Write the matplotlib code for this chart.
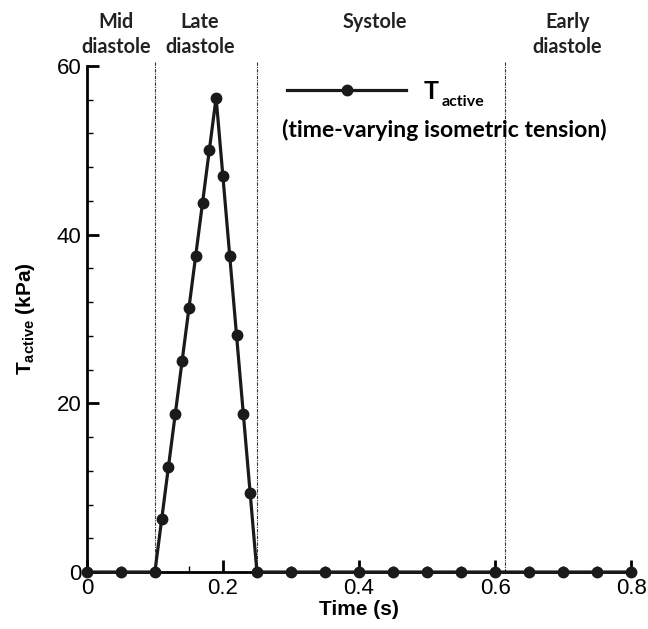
import matplotlib
matplotlib.use('Agg')
import matplotlib.pyplot as plt
from matplotlib.ticker import MultipleLocator

# time points (s) and active tension (kPa)
time = [0.0, 0.05, 0.10, 0.11, 0.12, 0.13, 0.14, 0.15, 0.16, 0.17, 0.18, 0.19,
        0.20, 0.21, 0.22, 0.23, 0.24, 0.25, 0.30, 0.35, 0.40, 0.45, 0.50, 0.55,
        0.60, 0.65, 0.70, 0.75, 0.80]
tension = [0, 0, 0, 6.25, 12.5, 18.75, 25.0, 31.25, 37.5, 43.75, 50.0, 56.25,
           46.9, 37.5, 28.1, 18.75, 9.4, 0, 0, 0, 0, 0, 0, 0,
           0, 0, 0, 0, 0]

# phase boundaries and labels
boundaries = [0.10, 0.25, 0.615]
phase_names = ['Mid\ndiastole', 'Late\ndiastole', 'Systole', 'Early\ndiastole']
phase_x = [0.043, 0.166, 0.424, 0.706]
xtick_vals = [0, 0.2, 0.4, 0.6, 0.8]
xtick_labels = ['0', '0.2', '0.4', '0.6', '0.8']

plt.rcParams['font.family'] = 'Liberation Sans'
plt.rcParams['mathtext.fontset'] = 'custom'
plt.rcParams['mathtext.rm'] = 'Liberation Sans'
plt.rcParams['mathtext.bf'] = 'Liberation Sans:bold'

fig = plt.figure(figsize=(6.48, 6.29), dpi=100)
ax = fig.add_axes([0.134, 0.0906, 0.84, 0.8045])

# dash-dot phase boundaries
for b in boundaries:
    ax.axvline(b, ymin=0, ymax=1.01, color='#333333', lw=0.8,
               ls=(0, (3, 1, 1, 1)), clip_on=False, zorder=1)

line, = ax.plot(time, tension, color='#1a1a1a', lw=2.3, marker='o', ms=7.5,
                zorder=3, clip_on=False)

ax.set_xlim(0, 0.8)
ax.set_ylim(0, 60)
ax.set_xticks(xtick_vals)
ax.set_xticklabels(xtick_labels)
ax.xaxis.set_minor_locator(MultipleLocator(0.05))
ax.yaxis.set_major_locator(MultipleLocator(20))
ax.yaxis.set_minor_locator(MultipleLocator(4))

for s in ['top', 'right']:
    ax.spines[s].set_visible(False)
for s in ['left', 'bottom']:
    ax.spines[s].set_linewidth(2)
ax.tick_params(which='major', direction='in', length=8.6, width=2, labelsize=16, pad=4)
ax.tick_params(which='minor', direction='in', length=4.3, width=1)

ax.set_xlabel('Time (s)', fontsize=15, fontweight='bold', labelpad=1)
ax.set_ylabel(r'$\mathbf{T}_{\mathbf{active}}$ (kPa)', fontsize=15,
              fontweight='bold', labelpad=14)

# phase names above the plot, one text per line
for name, px in zip(phase_names, phase_x):
    parts = name.split('\n')
    ax.text(px, 64.5, parts[0], ha='center', va='baseline', fontsize=14.3,
            fontweight='bold', family='Lato', color='#222222')
    if len(parts) > 1:
        ax.text(px, 61.54, parts[1], ha='center', va='baseline', fontsize=14.3,
                fontweight='bold', family='Lato', color='#222222')

# legend
leg = ax.legend([line], ['T'], loc='center left', bbox_to_anchor=(0.368, 0.95),
                frameon=False, handlelength=4.76, handletextpad=0.7,
                borderpad=0, borderaxespad=0,
                prop={'family': 'Lato', 'weight': 'bold', 'size': 18})
ax.text(0.652, 0.921, 'active', transform=ax.transAxes, family='Lato',
        fontweight='bold', fontsize=11.5, ha='left', va='baseline')
ax.text(0.359, 0.859, '(time-varying isometric tension)', transform=ax.transAxes,
        family='Lato', fontweight='bold', fontsize=16.6, ha='left', va='baseline')

fig.savefig('out.png', dpi=100)
